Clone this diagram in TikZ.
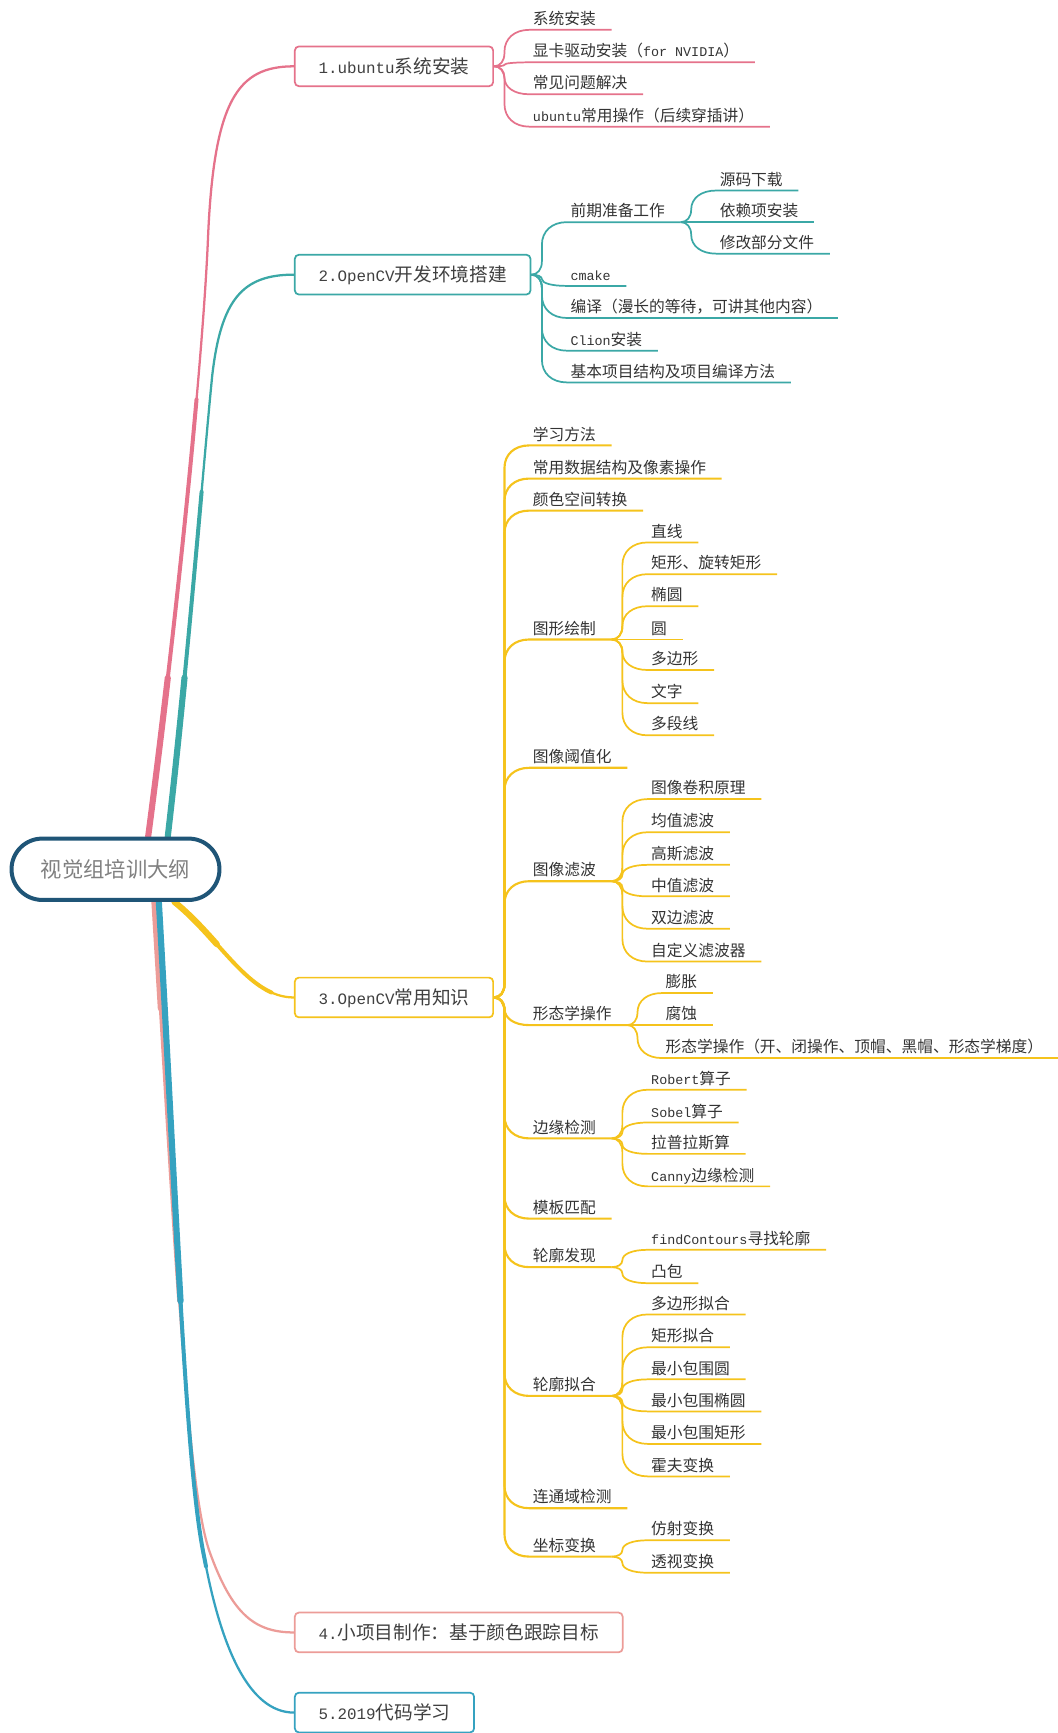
\documentclass[tikz,border=0pt]{standalone}
\usepackage{fontspec}
\setmainfont{Noto Sans CJK SC}
\newfontfamily\monolatin[Scale=0.85]{Liberation Mono}
\usetikzlibrary{calc,backgrounds}

\definecolor{pinkc}{HTML}{E5728B}
\definecolor{tealc}{HTML}{3BA8A6}
\definecolor{yellowc}{HTML}{F5C31C}
\definecolor{salmonc}{HTML}{EC9C98}
\definecolor{bluec}{HTML}{35A2C0}
\definecolor{rootc}{HTML}{1F5577}

\tikzset{
  rootnode/.style={draw=rootc, line width=3pt, rounded corners=23pt, fill=white,
    minimum width=156pt, minimum height=46pt, text height=13.6pt, text depth=1.4pt,
    font=\fontsize{16pt}{18pt}\selectfont, text=black!50},
  topicbox/.style={anchor=west, rounded corners=3pt, line width=1.3pt, fill=white,
    minimum height=29.8pt, inner xsep=17.8pt, text height=12.3pt, text depth=1.7pt,
    font=\fontsize{14pt}{16pt}\selectfont, text=black!75},
  leafnode/.style={anchor=south west, inner xsep=11.6pt, inner ysep=2pt,
    text height=9.5pt, text depth=1.8pt,
    font=\fontsize{11.8pt}{14pt}\selectfont, text=black!80},
  branchline/.style={line width=1.3pt, to path={
    let \p1=(\tikztostart), \p2=(\tikztotarget.south west),
        \n1={\x1+0.45*(\x2-\x1)}, \n2={\x2+9pt},
        \n3={max(-10pt,min(10pt,0.4*(\y2-\y1)))},
        \n4={max(-17pt,min(17pt,0.6*(\y2-\y1)))}
    in .. controls ({0.4*\x1+0.6*\n1},\y1) and (\n1,{\y1+0.4*\n3}) .. (\n1,\y1+\n3)
       -- (\n1,\y2-\n4)
       .. controls (\n1,{\y2-0.4*\n4}) and ({\n1+0.4*(\n2-\n1)},\y2) .. (\n2,\y2)
       -- (\tikztotarget.south east)}},
  trunkline/.style n args={3}{draw=#3, line width=1.7pt, line cap=round,
    preaction={draw=#3, line cap=round, line width=3pt, dash pattern=on #1 off 4000pt},
    preaction={draw=#3, line cap=round, line width=4.6pt, dash pattern=on #2 off 4000pt}},
}

\begin{document}
\begin{tikzpicture}[x=0.8291pt, y=-0.8291pt]
  \useasboundingbox (0,0) rectangle (957,1568);

  % centre
  \node[rootnode] (root) at (104.5,786.5) {视觉组培训大纲};

  % main topics
  \node[topicbox, draw=pinkc] (b1) at (266,60) {{\monolatin 1.ubuntu}系统安装};
  \node[topicbox, draw=tealc] (b2) at (266,248.5) {{\monolatin 2.OpenCV}开发环境搭建};
  \node[topicbox, draw=yellowc] (b3) at (266,902.5) {{\monolatin 3.OpenCV}常用知识};
  \node[topicbox, draw=salmonc] (b4) at (266,1477) {{\monolatin 4.}小项目制作：基于颜色跟踪目标};
  \node[topicbox, draw=bluec] (b5) at (266,1549.5) {{\monolatin 5.2019}代码学习};

  \begin{pgfonlayer}{background}
    \draw[trunkline={330pt}{120pt}{pinkc}] (root.45) .. controls (160,560) and (183,330) .. (188,220)
      .. controls (193,90) and (215,60) .. (b1.west);
    \draw[trunkline={260pt}{120pt}{tealc}] (root.32) .. controls (170,600) and (184,420) .. (192,340)
      .. controls (200,270) and (220,248.5) .. (b2.west);
    \draw[trunkline={100pt}{45pt}{yellowc}] (root.-29) .. controls (200,850) and (225,902.5) .. (b3.west);
    \draw[trunkline={300pt}{80pt}{salmonc}] (root.-40) .. controls (160,1150) and (170,1350) .. (190,1405)
      .. controls (210,1460) and (230,1477) .. (b4.west);
    \draw[trunkline={500pt}{300pt}{bluec}] (root.-37) .. controls (160,1100) and (168,1330) .. (185,1410)
      .. controls (200,1490) and (225,1549.5) .. (b5.west);
  \end{pgfonlayer}

  % 1. ubuntu
  \node[leafnode] (inst) at (468,27) {系统安装};
  \node[leafnode] (driver) at (468,56.4) {显卡驱动安装（{\monolatin for NVIDIA}）};
  \node[leafnode] (faq) at (468,85.3) {常见问题解决};
  \node[leafnode] (ops) at (468,114.6) {{\monolatin ubuntu}常用操作（后续穿插讲）};
  \draw[branchline, pinkc] (b1.east) to (inst);
  \draw[branchline, pinkc] (b1.east) to (driver);
  \draw[branchline, pinkc] (b1.east) to (faq);
  \draw[branchline, pinkc] (b1.east) to (ops);

  % 2. OpenCV environment
  \node[leafnode] (prep) at (502,201) {前期准备工作};
  \node[leafnode] (src) at (637,172.4) {源码下载};
  \node[leafnode] (deps) at (637,201) {依赖项安装};
  \node[leafnode] (edit) at (637,229.5) {修改部分文件};
  \node[leafnode] (cmake) at (502,258.7) {{\monolatin cmake}};
  \node[leafnode] (build) at (502,287.7) {编译（漫长的等待，可讲其他内容）};
  \node[leafnode] (clion) at (502,317.3) {{\monolatin Clion}安装};
  \node[leafnode] (proj) at (502,346) {基本项目结构及项目编译方法};
  \draw[branchline, tealc] (b2.east) to (prep);
  \draw[branchline, tealc] (prep.south east) to (src);
  \draw[branchline, tealc] (prep.south east) to (deps);
  \draw[branchline, tealc] (prep.south east) to (edit);
  \draw[branchline, tealc] (b2.east) to (cmake);
  \draw[branchline, tealc] (b2.east) to (build);
  \draw[branchline, tealc] (b2.east) to (clion);
  \draw[branchline, tealc] (b2.east) to (proj);

  % 3. OpenCV knowledge
  \node[leafnode] (learn) at (468,403) {学习方法};
  \node[leafnode] (datas) at (468,433) {常用数据结构及像素操作};
  \node[leafnode] (color) at (468,462) {颜色空间转换};
  \node[leafnode] (shape) at (468,578.6) {图形绘制};
  \node[leafnode] (line) at (575,490.8) {直线};
  \node[leafnode] (rect) at (575,519.5) {矩形、旋转矩形};
  \node[leafnode] (ellip) at (575,548.5) {椭圆};
  \node[leafnode] (circ) at (575,578.6) {圆};
  \node[leafnode] (poly) at (575,606.2) {多边形};
  \node[leafnode] (word) at (575,636.2) {文字};
  \node[leafnode] (pline) at (575,665.3) {多段线};
  \node[leafnode] (thresh) at (468,694.7) {图像阈值化};
  \node[leafnode] (filt) at (468,797.3) {图像滤波};
  \node[leafnode] (conv) at (575,723) {图像卷积原理};
  \node[leafnode] (mean) at (575,753) {均值滤波};
  \node[leafnode] (gauss) at (575,782.5) {高斯滤波};
  \node[leafnode] (median) at (575,811) {中值滤波};
  \node[leafnode] (bilat) at (575,840.3) {双边滤波};
  \node[leafnode] (custom) at (575,870) {自定义滤波器};
  \node[leafnode] (morph) at (468,927.5) {形态学操作};
  \node[leafnode] (dilate) at (588,898.5) {膨胀};
  \node[leafnode] (erode) at (588,927.5) {腐蚀};
  \node[leafnode] (morphops) at (588,957.3) {形态学操作（开、闭操作、顶帽、黑帽、形态学梯度）};
  \node[leafnode] (edge) at (468,1030) {边缘检测};
  \node[leafnode] (robert) at (575,986) {{\monolatin Robert}算子};
  \node[leafnode] (sobel) at (575,1015.6) {{\monolatin Sobel}算子};
  \node[leafnode] (laplace) at (575,1044) {拉普拉斯算};
  \node[leafnode] (canny) at (575,1073.4) {{\monolatin Canny}边缘检测};
  \node[leafnode] (match) at (468,1102.6) {模板匹配};
  \node[leafnode] (contour) at (468,1146.5) {轮廓发现};
  \node[leafnode] (find) at (575,1130.8) {{\monolatin findContours}寻找轮廓};
  \node[leafnode] (hull) at (575,1161) {凸包};
  \node[leafnode] (fit) at (468,1263) {轮廓拟合};
  \node[leafnode] (polyfit) at (575,1189.3) {多边形拟合};
  \node[leafnode] (rectfit) at (575,1219) {矩形拟合};
  \node[leafnode] (mincirc) at (575,1248) {最小包围圆};
  \node[leafnode] (minell) at (575,1277) {最小包围椭圆};
  \node[leafnode] (minrect) at (575,1306.4) {最小包围矩形};
  \node[leafnode] (hough) at (575,1335.8) {霍夫变换};
  \node[leafnode] (conn) at (468,1364.6) {连通域检测};
  \node[leafnode] (trans) at (468,1408.4) {坐标变换};
  \node[leafnode] (affine) at (575,1393.6) {仿射变换};
  \node[leafnode] (persp) at (575,1423) {透视变换};

  \draw[branchline, yellowc, line width=1.6pt] (b3.east) to (learn);
  \draw[branchline, yellowc, line width=1.6pt] (b3.east) to (datas);
  \draw[branchline, yellowc, line width=1.6pt] (b3.east) to (color);
  \draw[branchline, yellowc, line width=1.6pt] (b3.east) to (shape);
  \draw[branchline, yellowc, line width=1.6pt] (b3.east) to (thresh);
  \draw[branchline, yellowc, line width=1.6pt] (b3.east) to (filt);
  \draw[branchline, yellowc, line width=1.6pt] (b3.east) to (morph);
  \draw[branchline, yellowc, line width=1.6pt] (b3.east) to (edge);
  \draw[branchline, yellowc, line width=1.6pt] (b3.east) to (match);
  \draw[branchline, yellowc, line width=1.6pt] (b3.east) to (contour);
  \draw[branchline, yellowc, line width=1.6pt] (b3.east) to (fit);
  \draw[branchline, yellowc, line width=1.6pt] (b3.east) to (conn);
  \draw[branchline, yellowc, line width=1.6pt] (b3.east) to (trans);

  \draw[branchline, yellowc] (shape.south east) to (line);
  \draw[branchline, yellowc] (shape.south east) to (rect);
  \draw[branchline, yellowc] (shape.south east) to (ellip);
  \draw[branchline, yellowc] (shape.south east) to (circ);
  \draw[branchline, yellowc] (shape.south east) to (poly);
  \draw[branchline, yellowc] (shape.south east) to (word);
  \draw[branchline, yellowc] (shape.south east) to (pline);

  \draw[branchline, yellowc] (filt.south east) to (conv);
  \draw[branchline, yellowc] (filt.south east) to (mean);
  \draw[branchline, yellowc] (filt.south east) to (gauss);
  \draw[branchline, yellowc] (filt.south east) to (median);
  \draw[branchline, yellowc] (filt.south east) to (bilat);
  \draw[branchline, yellowc] (filt.south east) to (custom);

  \draw[branchline, yellowc] (morph.south east) to (dilate);
  \draw[branchline, yellowc] (morph.south east) to (erode);
  \draw[branchline, yellowc] (morph.south east) to (morphops);

  \draw[branchline, yellowc] (edge.south east) to (robert);
  \draw[branchline, yellowc] (edge.south east) to (sobel);
  \draw[branchline, yellowc] (edge.south east) to (laplace);
  \draw[branchline, yellowc] (edge.south east) to (canny);

  \draw[branchline, yellowc] (contour.south east) to (find);
  \draw[branchline, yellowc] (contour.south east) to (hull);

  \draw[branchline, yellowc] (fit.south east) to (polyfit);
  \draw[branchline, yellowc] (fit.south east) to (rectfit);
  \draw[branchline, yellowc] (fit.south east) to (mincirc);
  \draw[branchline, yellowc] (fit.south east) to (minell);
  \draw[branchline, yellowc] (fit.south east) to (minrect);
  \draw[branchline, yellowc] (fit.south east) to (hough);

  \draw[branchline, yellowc] (trans.south east) to (affine);
  \draw[branchline, yellowc] (trans.south east) to (persp);
\end{tikzpicture}
\end{document}
